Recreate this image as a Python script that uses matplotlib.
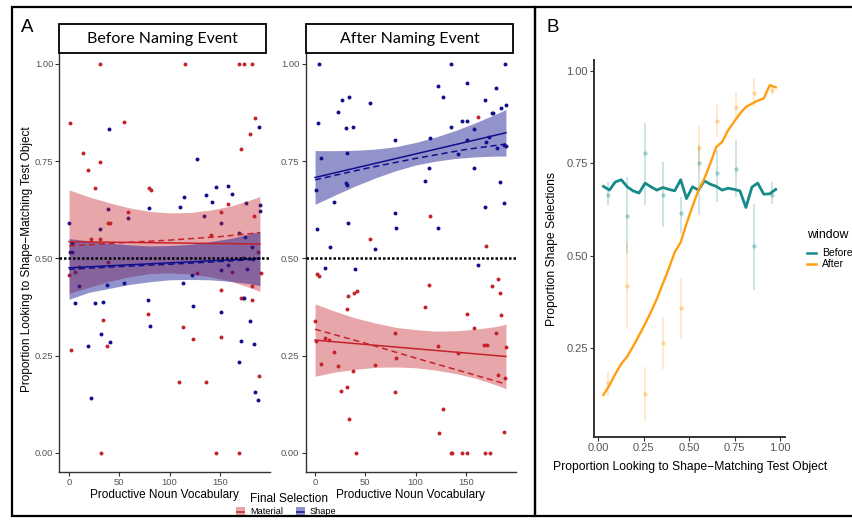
import matplotlib.pyplot as plt
from matplotlib.patches import Rectangle
from matplotlib.lines import Line2D

plt.rcParams['font.family'] = ['Liberation Sans', 'DejaVu Sans']

# -----------------------------------
# PANEL A DATA (looking vs vocabulary)
# -----------------------------------

before_material_x = [30.8, 115.3, 169, 174.3, 182.2, 1, 13.6, 18.6, 30.8, 25.8, 54.7, 79.5, 81.2,
                     59, 38.5, 40.8, 21.9, 184.9, 180, 170.7, 158.4, 150.8, 183.9, 140.9, 0, 6, 9.9,
                     39, 1.7, 33.5, 38, 31.8, 78.8, 113.6, 123, 109.6, 135.9, 145.8, 169, 150.8, 150.8,
                     170.7, 172.7, 182.2, 189.2, 190.8, 162.3, 126.9, 182.2, 30.8, 188]
before_material_y = [1.0, 1.0, 1.0, 1.0, 1.0, 0.848, 0.772, 0.726, 0.749, 0.682, 0.850, 0.682, 0.675,
                     0.619, 0.590, 0.590, 0.549, 0.860, 0.819, 0.781, 0.639, 0.619, 0.610, 0.560, 0.458,
                     0.464, 0.479, 0.492, 0.265, 0.342, 0.275, 0.0, 0.357, 0.323, 0.293, 0.183, 0.183,
                     0.0, 0.0, 0.419, 0.299, 0.399, 0.399, 0.393, 0.198, 0.463, 0.466, 0.462, 0.429,
                     0.549, 0.517]

before_shape_x = [0, 40.1, 38.5, 30.8, 59, 79.5, 114.6, 110.3, 126.9, 135.9, 142.1, 145.8, 158.4,
                  162.3, 134.5, 150.8, 176, 189.2, 189.9, 189.9, 169, 175.6, 182.2, 2.7, 1, 3, 6, 9.9,
                  18.6, 21.9, 25.8, 31.8, 33.5, 38, 40.8, 54.7, 78.8, 80.8, 113.6, 123, 122, 150.8,
                  150.8, 157.8, 171, 169, 174.3, 180, 183.9, 184.9, 187.6, 177.6, 183, 173]
before_shape_y = [0.590, 0.832, 0.627, 0.576, 0.603, 0.629, 0.657, 0.632, 0.756, 0.662, 0.645, 0.683,
                  0.685, 0.665, 0.608, 0.592, 0.642, 0.839, 0.637, 0.621, 0.565, 0.556, 0.530, 0.539,
                  0.516, 0.516, 0.385, 0.429, 0.275, 0.142, 0.385, 0.305, 0.389, 0.432, 0.285, 0.436,
                  0.393, 0.327, 0.436, 0.378, 0.458, 0.361, 0.470, 0.483, 0.288, 0.235, 0.399, 0.339,
                  0.280, 0.156, 0.136, 0.473, 0.498, 0.500]

after_material_x = [161.7, 114.9, 55.1, 170.6, 2.3, 4.3, 32.4, 38.9, 41.3, 31.4, 113.9, 109.9, 150.8,
                    181.9, 175.9, 183.9, 184.8, 157.7, 0, 1, 14.2, 9.9, 19.1, 5.9, 22.4, 37.9, 25.7,
                    31.4, 34, 40.6, 59.4, 79.2, 80.9, 79.2, 122.1, 123, 127, 141.9, 135.3, 136.3, 145.8,
                    151.2, 168.3, 171.6, 169, 174, 179.9, 182.2, 188.8, 189.8, 187.8]
after_material_y = [0.863, 0.609, 0.549, 0.532, 0.460, 0.455, 0.404, 0.411, 0.415, 0.369, 0.432, 0.376,
                    0.357, 0.447, 0.429, 0.411, 0.355, 0.322, 0.340, 0.288, 0.290, 0.296, 0.259, 0.228,
                    0.224, 0.211, 0.160, 0.170, 0.087, 0.0, 0.226, 0.309, 0.245, 0.156, 0.275, 0.052,
                    0.113, 0.258, 0.0, 0.0, 0.0, 0.0, 0.278, 0.278, 0.0, 0.0, 0.309, 0.200, 0.192,
                    0.273, 0.055]

after_shape_x = [4.3, 135.3, 188.8, 3, 5.9, 0.7, 2.3, 14.9, 19.1, 22.4, 26.4, 34, 30.7, 37.9, 31.4,
                 32.4, 30.7, 32, 55.1, 59.4, 79.2, 79.2, 80.9, 109.9, 113.9, 114.9, 122.1, 122.8,
                 127.1, 135.3, 141.9, 145.8, 151.2, 150.8, 150.8, 157.7, 157.7, 169, 169, 173.3, 170.6,
                 175.9, 177.5, 179.9, 181.5, 184.2, 184.8, 188, 189.8, 188, 189.8, 161.7, 10.2, 39.6]
after_shape_y = [1.0, 1.0, 1.0, 0.848, 0.757, 0.676, 0.575, 0.530, 0.646, 0.876, 0.906, 0.916, 0.835,
                 0.839, 0.772, 0.590, 0.695, 0.689, 0.899, 0.524, 0.805, 0.616, 0.578, 0.699, 0.733,
                 0.809, 0.578, 0.943, 0.916, 0.839, 0.769, 0.854, 0.950, 0.852, 0.805, 0.832, 0.733,
                 0.907, 0.633, 0.813, 0.800, 0.875, 0.875, 0.939, 0.785, 0.697, 0.886, 0.791, 0.788,
                 0.642, 0.894, 0.482, 0.475, 0.472]

# fitted lines and confidence bands
fit_x = [0, 190]
dash_x = [0, 50, 100, 150, 190]
band_x = [0, 20, 40, 60, 80, 100, 120, 140, 160, 180, 190]

before_material_fit = [0.543, 0.537]
before_material_dash = [0.532, 0.540, 0.547, 0.556, 0.566]
before_material_hi = [0.676, 0.658, 0.643, 0.630, 0.621, 0.617, 0.618, 0.624, 0.634, 0.650, 0.659]
before_material_lo = [0.410, 0.426, 0.441, 0.453, 0.461, 0.463, 0.460, 0.453, 0.442, 0.425, 0.415]

before_shape_fit = [0.476, 0.500]
before_shape_dash = [0.472, 0.479, 0.485, 0.492, 0.498]
before_shape_hi = [0.551, 0.545, 0.539, 0.535, 0.532, 0.533, 0.536, 0.543, 0.551, 0.563, 0.570]
before_shape_lo = [0.395, 0.413, 0.423, 0.433, 0.440, 0.445, 0.446, 0.445, 0.441, 0.435, 0.430]

after_material_fit = [0.290, 0.248]
after_material_dash = [0.318, 0.282, 0.244, 0.207, 0.177]
after_material_hi = [0.383, 0.364, 0.347, 0.334, 0.323, 0.317, 0.313, 0.314, 0.318, 0.325, 0.331]
after_material_lo = [0.197, 0.208, 0.215, 0.220, 0.221, 0.219, 0.213, 0.204, 0.192, 0.175, 0.165]

after_shape_fit = [0.708, 0.823]
after_shape_dash = [0.702, 0.731, 0.757, 0.780, 0.794]
after_shape_hi = [0.777, 0.777, 0.778, 0.781, 0.787, 0.798, 0.812, 0.829, 0.849, 0.871, 0.883]
after_shape_lo = [0.639, 0.663, 0.686, 0.707, 0.725, 0.740, 0.750, 0.757, 0.761, 0.763, 0.763]

# -----------------------------------
# PANEL B DATA (shape selections)
# -----------------------------------

line_x = [0.028, 0.061, 0.093, 0.126, 0.159, 0.191, 0.224, 0.257, 0.289, 0.322, 0.355, 0.387,
          0.420, 0.453, 0.485, 0.518, 0.551, 0.583, 0.616, 0.649, 0.681, 0.714, 0.747, 0.779,
          0.812, 0.845, 0.877, 0.910, 0.943, 0.976]
before_line = [0.688, 0.678, 0.700, 0.706, 0.687, 0.676, 0.670, 0.697, 0.687, 0.678, 0.685, 0.680,
               0.676, 0.706, 0.655, 0.687, 0.678, 0.703, 0.694, 0.688, 0.678, 0.683, 0.680, 0.676,
               0.631, 0.686, 0.697, 0.667, 0.668, 0.680]
after_line = [0.124, 0.150, 0.180, 0.208, 0.228, 0.255, 0.285, 0.316, 0.348, 0.384, 0.425, 0.465,
              0.510, 0.537, 0.587, 0.634, 0.678, 0.709, 0.750, 0.795, 0.808, 0.840, 0.863, 0.885,
              0.903, 0.912, 0.920, 0.926, 0.962, 0.956]

bin_x = [0.055, 0.155, 0.255, 0.355, 0.455, 0.555, 0.655, 0.755, 0.855, 0.955]
before_pt = [0.666, 0.608, 0.779, 0.666, 0.617, 0.750, 0.723, 0.736, 0.526, 0.666]
before_lo = [0.637, 0.507, 0.637, 0.578, 0.561, 0.610, 0.646, 0.659, 0.408, 0.640]
before_hi = [0.700, 0.714, 0.860, 0.754, 0.660, 0.800, 0.786, 0.813, 0.641, 0.700]
after_pt = [0.155, 0.418, 0.127, 0.265, 0.359, 0.792, 0.865, 0.902, 0.941, 0.950]
after_lo = [0.122, 0.303, 0.054, 0.194, 0.276, 0.732, 0.822, 0.867, 0.902, 0.935]
after_hi = [0.185, 0.534, 0.199, 0.334, 0.440, 0.851, 0.910, 0.944, 0.982, 0.962]

# -----------------------------------
# STYLE
# -----------------------------------

RED = "#C4232B"
BLUE = "#10108C"
TEAL = "#178A89"
ORANGE = "#FF9F10"
AXIS = "#333333"
TICK_TXT = "#555555"

W, H = 852, 523
fig = plt.figure(figsize=(W / 100, H / 100), dpi=100)


def px_axes(x0, y0, x1, y1):
    return fig.add_axes([x0 / W, 1 - y1 / H, (x1 - x0) / W, (y1 - y0) / H])


def fx(x):
    return x / W


def fy(y):
    return 1 - y / H


def classic(ax, lw=1.0, size=7):
    for s in ["top", "right"]:
        ax.spines[s].set_visible(False)
    for s in ["left", "bottom"]:
        ax.spines[s].set_color(AXIS)
        ax.spines[s].set_linewidth(lw)
    ax.tick_params(direction="out", length=3, width=0.8, color=AXIS,
                   labelcolor=TICK_TXT, labelsize=size, pad=1.5)
    ax.set_facecolor("none")


# -----------------------------------
# PANEL A FACETS
# -----------------------------------

def facet(ax, mx, my, sx, sy, mat, shp):
    ax.scatter(mx, my, s=8, color=RED, linewidths=0, zorder=1)
    ax.scatter(sx, sy, s=8, color=BLUE, linewidths=0, zorder=1)
    ax.fill_between(band_x, mat[3], mat[2], color=RED, alpha=0.4, lw=0, zorder=2)
    ax.fill_between(band_x, shp[3], shp[2], color=BLUE, alpha=0.45, lw=0, zorder=2)
    ax.plot(fit_x, mat[0], color=RED, lw=1.1, zorder=3)
    ax.plot(dash_x, mat[1], color=RED, lw=1.1, ls=(0, (4, 2.5)), zorder=3)
    ax.plot(fit_x, shp[0], color=BLUE, lw=1.1, zorder=3)
    ax.plot(dash_x, shp[1], color=BLUE, lw=1.1, ls=(0, (4, 2.5)), zorder=3)
    ax.axhline(0.5, color="black", lw=1.8, ls=(0, (1, 0.8)), zorder=4)
    ax.set_xlim(-9.5, 199.5)
    ax.set_ylim(-0.049, 1.028)
    ax.set_xticks([0, 50, 100, 150])
    ax.set_yticks([0, 0.25, 0.5, 0.75, 1.0])
    ax.set_yticklabels(["0.00", "0.25", "0.50", "0.75", "1.00"])
    classic(ax, lw=1.0, size=6.8)


ax1 = px_axes(59.5, 53, 269.5, 472)
facet(ax1, before_material_x, before_material_y, before_shape_x, before_shape_y,
      (before_material_fit, before_material_dash, before_material_hi, before_material_lo),
      (before_shape_fit, before_shape_dash, before_shape_hi, before_shape_lo))

ax2 = px_axes(305.5, 53, 515.5, 472)
facet(ax2, after_material_x, after_material_y, after_shape_x, after_shape_y,
      (after_material_fit, after_material_dash, after_material_hi, after_material_lo),
      (after_shape_fit, after_shape_dash, after_shape_hi, after_shape_lo))

# strips
for x0, x1, title in [(59, 266, "Before Naming Event"), (306, 513, "After Naming Event")]:
    fig.patches.append(Rectangle((fx(x0), fy(53)), fx(x1) - fx(x0), fy(24) - fy(53),
                                 transform=fig.transFigure, facecolor="white",
                                 edgecolor="black", lw=1.3))
    fig.text(fx((x0 + x1) / 2), fy(38.5), title, ha="center", va="center",
             fontsize=11.5, family="Lato")

fig.text(fx(27), fy(259), "Proportion Looking to Shape\u2212Matching Test Object",
         rotation=90, ha="center", va="center", fontsize=8.5)
fig.text(fx(164), fy(495), "Productive Noun Vocabulary", ha="center", va="center", fontsize=8.5)
fig.text(fx(410), fy(495), "Productive Noun Vocabulary", ha="center", va="center", fontsize=8.5)

# legend for final selection
fig.text(fx(289), fy(499), "Final Selection", ha="center", va="center", fontsize=8.6)
for kx, label, col, a in [(236, "Material", RED, 0.4), (296, "Shape", BLUE, 0.45)]:
    fig.patches.append(Rectangle((fx(kx), fy(517)), fx(9), fy(507) - fy(517),
                                 transform=fig.transFigure, facecolor=col, alpha=a, lw=0))
    fig.lines.append(Line2D([fx(kx + 1), fx(kx + 8)], [fy(512), fy(512)],
                            transform=fig.transFigure, color=col, lw=1.1))
    fig.text(fx(kx + 14), fy(512), label, ha="left", va="center", fontsize=6.7)

fig.text(fx(21), fy(27), "A", ha="left", va="center", fontsize=13.5)

# -----------------------------------
# PANEL B
# -----------------------------------

axb = px_axes(594, 60, 785, 437)
axb.vlines(bin_x, before_lo, before_hi, color=TEAL, alpha=0.22, lw=1.4, zorder=1)
axb.scatter(bin_x, before_pt, s=10, color=TEAL, alpha=0.35, linewidths=0, zorder=1)
axb.vlines(bin_x, after_lo, after_hi, color=ORANGE, alpha=0.22, lw=1.4, zorder=1)
axb.scatter(bin_x, after_pt, s=10, color=ORANGE, alpha=0.35, linewidths=0, zorder=1)
axb.plot(line_x, before_line, color=TEAL, lw=2.0, zorder=3)
axb.plot(line_x, after_line, color=ORANGE, lw=1.7, zorder=3)
axb.set_xlim(-0.024, 1.027)
axb.set_ylim(0.01, 1.03)
axb.set_xticks([0, 0.25, 0.5, 0.75, 1.0])
axb.set_xticklabels(["0.00", "0.25", "0.50", "0.75", "1.00"])
axb.set_yticks([0.25, 0.5, 0.75, 1.0])
axb.set_yticklabels(["0.25", "0.50", "0.75", "1.00"])
classic(axb, lw=1.4, size=8)

fig.text(fx(690), fy(467), "Proportion Looking to Shape\u2212Matching Test Object",
         ha="center", va="center", fontsize=8.7)
fig.text(fx(552), fy(249), "Proportion Shape Selections", rotation=90,
         ha="center", va="center", fontsize=8.7)
fig.text(fx(547), fy(27), "B", ha="left", va="center", fontsize=13.5)

fig.text(fx(807), fy(235), "window", ha="left", va="center", fontsize=8.9)
for ky, label, col in [(253, "Before", TEAL), (264, "After", ORANGE)]:
    fig.lines.append(Line2D([fx(807), fx(816)], [fy(ky), fy(ky)],
                            transform=fig.transFigure, color=col, lw=1.8))
    fig.text(fx(822), fy(ky), label, ha="left", va="center", fontsize=7.5)

# -----------------------------------
# PANEL FRAMES
# -----------------------------------

fig.patches.append(Rectangle((fx(12), fy(516)), fx(535) - fx(12), fy(7) - fy(516),
                             transform=fig.transFigure, fill=False, edgecolor="black", lw=1.6))
fig.patches.append(Rectangle((fx(535), fy(516)), fx(860) - fx(535), fy(7) - fy(516),
                             transform=fig.transFigure, fill=False, edgecolor="black", lw=1.6))

fig.savefig("out.png", dpi=100)
